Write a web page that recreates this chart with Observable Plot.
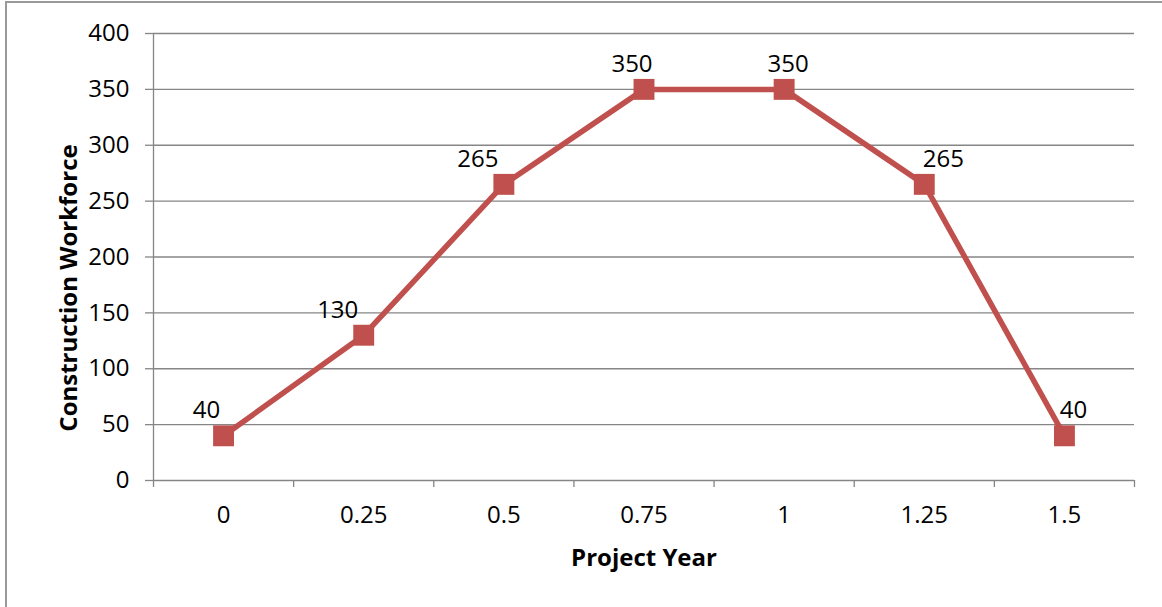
<!DOCTYPE html>
<html>
<head>
<meta charset="utf-8">
<script src="https://cdn.jsdelivr.net/npm/d3@7"></script>
<script src="https://cdn.jsdelivr.net/npm/@observablehq/plot@0.6"></script>
<style>
  html, body { margin: 0; padding: 0; background: #fff; }
  #wrap { position: relative; width: 1162px; height: 607px; overflow: hidden; }
  #edge { position: absolute; left: 5px; top: 1px; width: 1200px; height: 700px;
          border-left: 2px solid #9a9a9a; border-top: 2px solid #9a9a9a; }
  #chart { position: absolute; left: 0; top: 0; }
</style>
</head>
<body>
<div id="wrap"><div id="edge"></div><div id="chart"></div></div>
<script>
// Project year categories and the construction workforce at each
const years = ["0", "0.25", "0.5", "0.75", "1", "1.25", "1.5"];
const workforce = [40, 130, 265, 350, 350, 265, 40];
const yTicks = [0, 50, 100, 150, 200, 250, 300, 350, 400];
// horizontal nudge of each value label relative to its point
const labelShift = [-17, -26, -26, -12, 4, 19, 9];

const idx = years.map((_, i) => i);
const bounds = d3.range(-0.5, years.length, 1);
const grey = "#868686";
const red = "#C0504D";

const labelMarks = idx.map(i =>
  Plot.text([i], {
    x: d => d, y: d => workforce[d], text: d => String(workforce[d]),
    dx: labelShift[i], dy: -25, fill: "#000", fontSize: 24
  })
);

const chart = Plot.plot({
  width: 1162,
  height: 607,
  marginLeft: 153,
  marginRight: 28,
  marginTop: 33,
  marginBottom: 127,
  style: { fontFamily: "'Open Sans', sans-serif", fontSize: "24px", background: "transparent", color: "#000" },
  x: { type: "linear", domain: [-0.5, years.length - 0.5] },
  y: { domain: [0, 400] },
  marks: [
    Plot.gridY(yTicks, { stroke: grey, strokeOpacity: 1, strokeWidth: 1.3 }),
    Plot.ruleX([-0.5], { stroke: grey, strokeWidth: 1.3 }),
    Plot.axisY(yTicks, { tickSize: 8, tickPadding: 16, stroke: grey, strokeWidth: 1.3, fill: "#000", label: null, fontSize: 24 }),
    Plot.axisX(bounds, { tickSize: 7, tickFormat: () => "", stroke: grey, strokeWidth: 1.3, label: null }),
    Plot.axisX(idx, { tickSize: 0, tickPadding: 25, tickFormat: i => years[i], fill: "#000", label: null, fontSize: 24 }),
    Plot.text(["Project Year"], { frameAnchor: "bottom", dy: 85, fontWeight: "bold", fontSize: 24, fill: "#000" }),
    Plot.text(["Construction Workforce"], { frameAnchor: "left", textAnchor: "middle", dx: -84, dy: 31, rotate: -90, fontWeight: "bold", fontSize: 24, fill: "#000" }),
    Plot.line(idx, { x: d => d, y: d => workforce[d], stroke: red, strokeWidth: 5.5, strokeLinejoin: "round" }),
    Plot.dot(idx, { x: d => d, y: d => workforce[d], symbol: "square", r: 11.8, fill: red, stroke: "none" }),
    ...labelMarks
  ]
});
document.getElementById("chart").appendChild(chart);
</script>
</body>
</html>
